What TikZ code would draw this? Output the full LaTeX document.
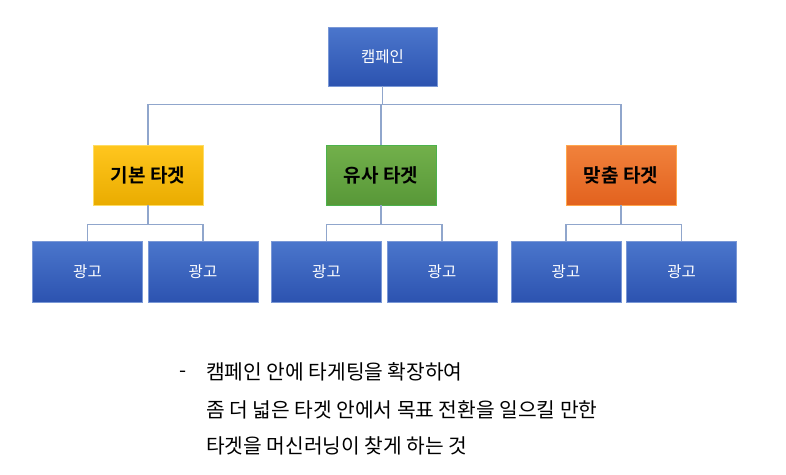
\documentclass[tikz,border=0pt]{standalone}
\usepackage{fontspec}
\setmainfont{Noto Sans CJK KR}[BoldFont={Noto Sans CJK KR Bold}]
\usetikzlibrary{positioning}
\definecolor{bluetop}{HTML}{4B76CC}
\definecolor{bluebot}{HTML}{2C53B0}
\definecolor{blueline}{HTML}{7A98D6}
\definecolor{linkcol}{HTML}{90A6CC}

\begin{document}
\begin{tikzpicture}[x=1pt,y=-1pt,
	box/.style={minimum width=110pt,minimum height=60pt,inner sep=0pt,line width=0.8pt},
	adbox/.style={box,draw=blueline,top color=bluetop,bottom color=bluebot,text=white,font=\fontsize{15.5}{15.5}\selectfont},
	tgbox/.style={box,font=\bfseries\fontsize{19}{19}\selectfont},
	link/.style={draw=linkcol,line width=1.3pt},
	note/.style={anchor=west,inner sep=0pt,font=\fontsize{20.3}{20.3}\selectfont}]
	\useasboundingbox (0,0) rectangle (786,474);

	\node[adbox,minimum width=109pt,minimum height=59pt] (camp) at (382.5,56.5) {캠페인};

	\node[tgbox,draw=yellow!60!orange!60,top color={rgb,255:red,255;green,198;blue,30},bottom color={rgb,255:red,234;green,172;blue,0}] (basic) at (148,175) {기본 타겟};
	\node[tgbox,draw=green!40!gray,top color={rgb,255:red,114;green,176;blue,75},bottom color={rgb,255:red,88;green,152;blue,56}] (similar) at (381,175) {유사 타겟};
	\node[tgbox,draw=orange!70,top color={rgb,255:red,241;green,130;blue,60},bottom color={rgb,255:red,226;green,98;blue,30}] (custom) at (621,175) {맞춤 타겟};

	\foreach \x [count=\i] in {87.5,203,326.5,442,566,681.5}
		\node[adbox,minimum height=61pt] (ad\i) at (\x,271.5) {광고};

	% campaign to targets
	\foreach \t in {basic,similar,custom}
		\draw[link] (camp.south) -- ++(0,18) -| (\t.north);

	% targets to ads
	\foreach \t/\a/\b in {basic/ad1/ad2,similar/ad3/ad4,custom/ad5/ad6} {
		\draw[link] (\t.south) -- ++(0,19) -| (\a.north);
		\draw[link] (\t.south) -- ++(0,19) -| (\b.north);
	}

	\node[note] (dash) at (179,374) {-};
	\node[note] (line1) at (206,372) {캠페인 안에 타게팅을 확장하여};
	\node[note] (line2) at (206,410) {좀 더 넓은 타겟 안에서 목표 전환을 일으킬 만한};
	\node[note] (line3) at (206,446) {타겟을 머신러닝이 찾게 하는 것};
\end{tikzpicture}
\end{document}
